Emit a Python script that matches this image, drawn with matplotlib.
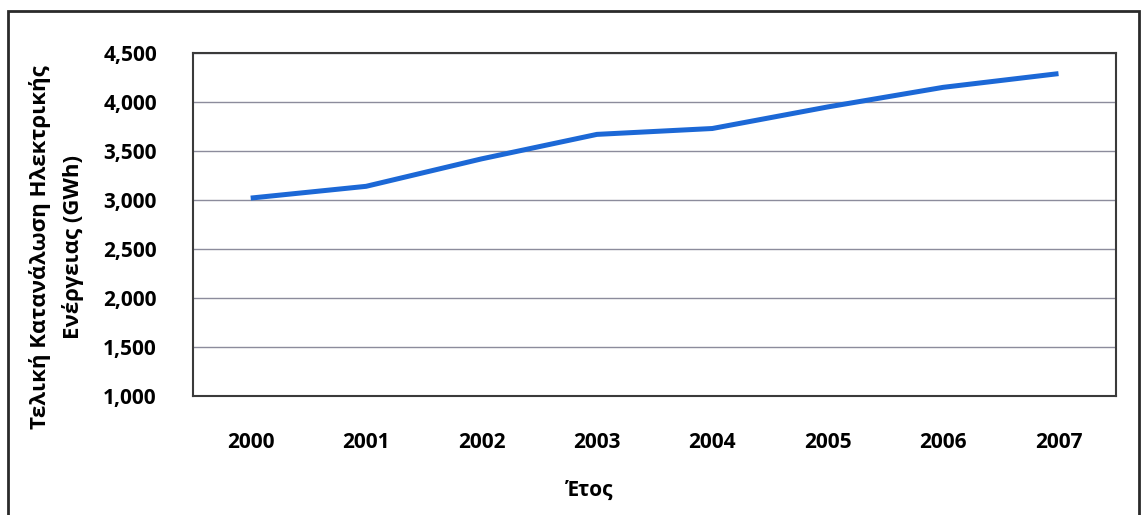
import matplotlib.pyplot as plt
from matplotlib.patches import Rectangle

years = ["2000", "2001", "2002", "2003", "2004", "2005", "2006", "2007"]
consumption = [3020, 3140, 3420, 3670, 3730, 3950, 4150, 4290]
y_ticks = [1000, 1500, 2000, 2500, 3000, 3500, 4000, 4500]

plt.rcParams['font.family'] = ['Open Sans', 'DejaVu Sans']
plt.rcParams['font.weight'] = 'bold'

fig = plt.figure(figsize=(11.44, 5.15), dpi=100)
ax = fig.add_axes([0.1687, 0.231, 0.807, 0.666])

x = list(range(len(years)))
ax.plot(x, consumption, color="#1c68d6", lw=3.6, solid_capstyle="butt", solid_joinstyle="round", zorder=3)

ax.set_xlim(-0.5, 7.5)
ax.set_ylim(1000, 4500)
ax.set_yticks(y_ticks)
ax.set_yticklabels([f"{v:,}" for v in y_ticks], fontsize=15, fontweight="bold")
ax.set_xticks(x)
ax.set_xticklabels(years, fontsize=15, fontweight="bold")
ax.tick_params(axis="both", length=0)
ax.tick_params(axis="y", pad=26)
ax.tick_params(axis="x", pad=26)

ax.grid(axis="y", color="#8c8c9c", lw=1.0)
ax.set_axisbelow(True)
for s in ax.spines.values():
    s.set_color("#3a3a3a")
    s.set_linewidth(1.5)

ax.set_xlabel("Έτος", fontsize=15, fontweight="bold")
ax.xaxis.set_label_coords(0.43, -0.245)

# two-line rotated y label
fig.text(0.035, 0.52, "Τελική Κατανάλωση Ηλεκτρικής", rotation=90, ha="center", va="center",
         fontsize=16, fontweight="bold")
fig.text(0.064, 0.52, "Ενέργειας (GWh)", rotation=90, ha="center", va="center",
         fontsize=16, fontweight="bold")

# outer frame
fig.patches.append(Rectangle((0.007, -0.02), 0.989, 0.999, transform=fig.transFigure,
                             fill=False, edgecolor="#2a2a2a", lw=2))

fig.savefig("out.png", dpi=100)
